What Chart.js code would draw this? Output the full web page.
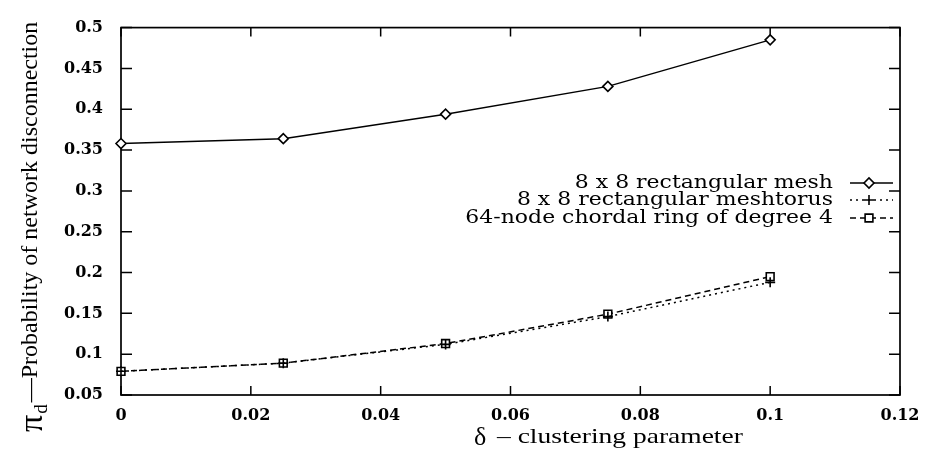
<!DOCTYPE html>
<html><head><meta charset="utf-8">
<script src="https://cdn.jsdelivr.net/npm/chart.js@4/dist/chart.umd.min.js"></script>
<style>html,body{margin:0;padding:0;background:#fff}#wrap{width:933px;height:453px}</style>
</head><body><div id="wrap"><canvas id="c" width="933" height="453"></canvas></div>
<script>
const xValues = [0, 0.025, 0.05, 0.075, 0.1];
const meshValues = [0.358, 0.364, 0.394, 0.428, 0.485];
const torusValues = [0.079, 0.089, 0.112, 0.146, 0.188];
const chordalValues = [0.079, 0.089, 0.113, 0.149, 0.195];
const seriesNames = ["8 x 8 rectangular mesh", "8 x 8 rectangular meshtorus", "64-node chordal ring of degree 4"];
const xTicks = [0, 0.02, 0.04, 0.06, 0.08, 0.1, 0.12];
const yTicks = [0.05, 0.1, 0.15, 0.2, 0.25, 0.3, 0.35, 0.4, 0.45, 0.5];
const xTitle = "– clustering parameter";
const yTitle = "—Probability of network disconnection";

const pts = arr => xValues.map((x, i) => ({x: x, y: arr[i]}));
const fmt = v => String(parseFloat(Number(v).toFixed(3)));

const styles = [
  {pointStyle: 'rectRot', radius: 5, dash: []},
  {pointStyle: 'cross', radius: 5, dash: [2, 4]},
  {pointStyle: 'rect', radius: 5.5, dash: [6, 4]}
];
const seriesData = [meshValues, torusValues, chordalValues];

const datasets = seriesData.map((d, i) => ({
  label: seriesNames[i],
  data: pts(d),
  borderColor: '#000',
  backgroundColor: '#fff',
  borderWidth: 1.5,
  borderDash: styles[i].dash,
  pointStyle: styles[i].pointStyle,
  pointRadius: styles[i].radius,
  pointBorderWidth: 1.6,
  pointBorderColor: '#000',
  pointBackgroundColor: '#fff',
  tension: 0,
  clip: false,
  fill: false
}));

const framePlugin = {
  id: 'frame',
  beforeDraw(chart) {
    const ctx = chart.ctx;
    ctx.save(); ctx.fillStyle = '#fff'; ctx.fillRect(0, 0, chart.width, chart.height); ctx.restore();
  },
  beforeDatasetsDraw(chart) {
    const ctx = chart.ctx, ca = chart.chartArea, xs = chart.scales.x, ys = chart.scales.y;
    ctx.save();
    ctx.strokeStyle = '#000'; ctx.lineWidth = 1.7;
    ctx.strokeRect(ca.left, ca.top, ca.right - ca.left, ca.bottom - ca.top);
    ctx.lineWidth = 1.5;
    ctx.beginPath();
    yTicks.forEach(v => {
      const p = ys.getPixelForValue(v);
      ctx.moveTo(ca.left, p); ctx.lineTo(ca.left + 11, p);
      ctx.moveTo(ca.right, p); ctx.lineTo(ca.right - 11, p);
    });
    xTicks.forEach(v => {
      const p = xs.getPixelForValue(v);
      ctx.moveTo(p, ca.bottom); ctx.lineTo(p, ca.bottom - 9);
      ctx.moveTo(p, ca.top); ctx.lineTo(p, ca.top + 9);
    });
    ctx.stroke();
    ctx.restore();
  },
  afterDraw(chart) {
    const ctx = chart.ctx;
    ctx.save();
    ctx.fillStyle = '#000'; ctx.strokeStyle = '#000';
    // legend
    const rows = [183, 200, 218];
    seriesNames.forEach((name, i) => {
      const yy = rows[i];
      ctx.save();
      ctx.translate(833, yy);
      ctx.scale(1.22, 1);
      ctx.font = '18px "DejaVu Serif"';
      ctx.textAlign = 'right'; ctx.textBaseline = 'middle';
      ctx.fillText(name, 0, 0);
      ctx.restore();
      ctx.save();
      ctx.lineWidth = 1.5;
      ctx.setLineDash(styles[i].dash);
      ctx.beginPath(); ctx.moveTo(850, yy); ctx.lineTo(893, yy); ctx.stroke();
      ctx.setLineDash([]);
      ctx.fillStyle = '#fff'; ctx.lineWidth = 1.6;
      Chart.helpers.drawPoint(ctx, {pointStyle: styles[i].pointStyle, radius: styles[i].radius, rotation: 0, borderWidth: 1.6}, 869, yy);
      ctx.restore();
    });
    // x title
    ctx.fillStyle = '#000';
    ctx.textBaseline = 'middle'; ctx.textAlign = 'left';
    ctx.font = '26px "Liberation Serif"';
    ctx.fillText('δ', 474, 438);
    ctx.save();
    ctx.translate(497, 437);
    ctx.scale(1.25, 1);
    ctx.font = '22px "Liberation Serif"';
    ctx.fillText(xTitle, 0, 0);
    ctx.restore();
    // y title
    ctx.save();
    ctx.translate(33, 432);
    ctx.rotate(-Math.PI / 2);
    ctx.textAlign = 'left'; ctx.textBaseline = 'middle';
    ctx.font = '34px "Liberation Serif"';
    ctx.fillText('π', 0, 0);
    const w1 = ctx.measureText('π').width;
    ctx.font = '19px "Liberation Serif"';
    ctx.fillText('d', w1 + 1, 9);
    const w2 = ctx.measureText('d').width;
    ctx.font = '24px "Liberation Serif"';
    ctx.fillText(yTitle, w1 + w2 + 3, -2);
    ctx.restore();
    ctx.restore();
  }
};

new Chart(document.getElementById('c'), {
  type: 'line',
  data: {datasets: datasets},
  options: {
    responsive: false,
    animation: false,
    devicePixelRatio: 1,
    layout: {padding: {top: 19, right: 33, left: 0, bottom: 0}},
    plugins: {legend: {display: false}, tooltip: {enabled: false}, title: {display: false}},
    scales: {
      x: {
        type: 'linear', min: 0, max: 0.12,
        afterBuildTicks: s => { s.ticks = xTicks.map(v => ({value: v})); },
        afterFit: s => { s.height = 58; },
        grid: {display: false, drawTicks: false},
        border: {display: false},
        ticks: {color: '#000', padding: 11, maxRotation: 0, autoSkip: false,
          font: {family: '"DejaVu Serif"', size: 16, weight: 'bold'}, callback: v => fmt(v)}
      },
      y: {
        type: 'linear', min: 0.05, max: 0.5,
        afterBuildTicks: s => { s.ticks = yTicks.map(v => ({value: v})); },
        afterFit: s => { s.width = 121; },
        grid: {display: false, drawTicks: false},
        border: {display: false},
        ticks: {color: '#000', padding: 18, autoSkip: false,
          font: {family: '"DejaVu Serif"', size: 16, weight: 'bold'}, callback: v => fmt(v)}
      }
    }
  },
  plugins: [framePlugin]
});
</script>
</body></html>
